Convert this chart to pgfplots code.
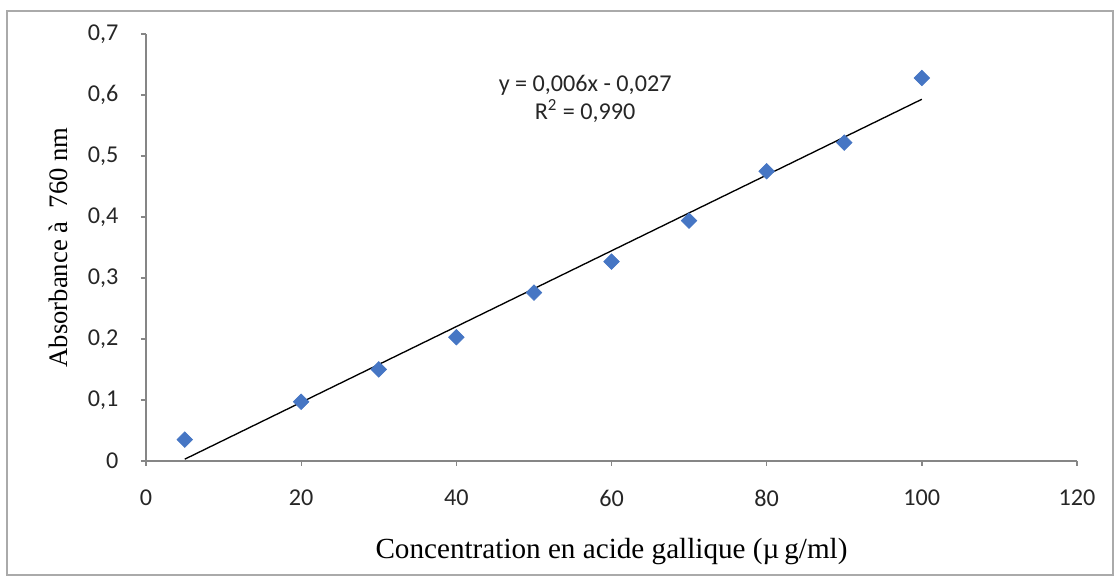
\documentclass[border=0pt]{standalone}
\usepackage{fontspec}
\setmainfont{Liberation Serif}
\newfontfamily\carlito{Carlito}
\usepackage{pgfplots}
\pgfplotsset{compat=1.18}

\definecolor{ptblue}{RGB}{70,118,196}
\definecolor{axgrey}{RGB}{134,134,134}

\begin{document}
\begin{tikzpicture}
\begin{axis}[
  scale only axis,
  width=558.6pt, height=256.2pt,
  xmin=0, xmax=120, ymin=0, ymax=0.7,
  axis x line*=bottom, axis y line*=left,
  axis line style={axgrey, line width=0.8pt},
  xtick={0,20,...,120},
  ytick={0,0.1,...,0.7},
  tick style={axgrey, line width=0.8pt},
  tick align=outside,
  major tick length=3pt,
  tick label style={font=\carlito\fontsize{14.5}{16}\selectfont, text=black!85},
  /pgf/number format/assume math mode=true,
  /pgf/number format/use comma,
  /pgf/number format/fixed,
  yticklabel style={/pgf/number format/precision=1, xshift=-10pt},
  xticklabel style={yshift=-11pt},
  xlabel={Concentration en acide gallique (µ\,g/ml)},
  ylabel={Absorbance à\ \ 760 nm},
  xlabel style={font=\fontsize{17.5}{20}\selectfont, yshift=-12pt},
  ylabel style={font=\fontsize{16}{18}\selectfont, yshift=5pt},
  clip=false,
]
% mesures
\addplot[only marks, mark=square*, mark size=3.3pt,
  mark options={rotate=45, fill=ptblue, draw=ptblue}] coordinates {
  (5,0.035) (20,0.097) (30,0.150) (40,0.203) (50,0.276)
  (60,0.327) (70,0.394) (80,0.475) (90,0.522) (100,0.628)
};
% droite de regression
\addplot[black, line width=0.8pt] coordinates {(5,0.003) (100,0.593)};
\node[align=center, font=\carlito\fontsize{14.5}{17}\selectfont, text=black!85]
  at (axis cs:56.6,0.594) {y = 0,006x - 0,027\\R\textsuperscript{2} = 0,990};
\end{axis}
% cadre du graphique
\draw[axgrey!70, line width=0.8pt]
  ([xshift=-83.4pt,yshift=-68.4pt]current axis.south west) rectangle
  ([xshift=580.2pt,yshift=270pt]current axis.south west);
\useasboundingbox
  ([xshift=-87.6pt,yshift=-70.2pt]current axis.south west) rectangle
  ([xshift=583.8pt,yshift=276.6pt]current axis.south west);
\end{tikzpicture}
\end{document}
